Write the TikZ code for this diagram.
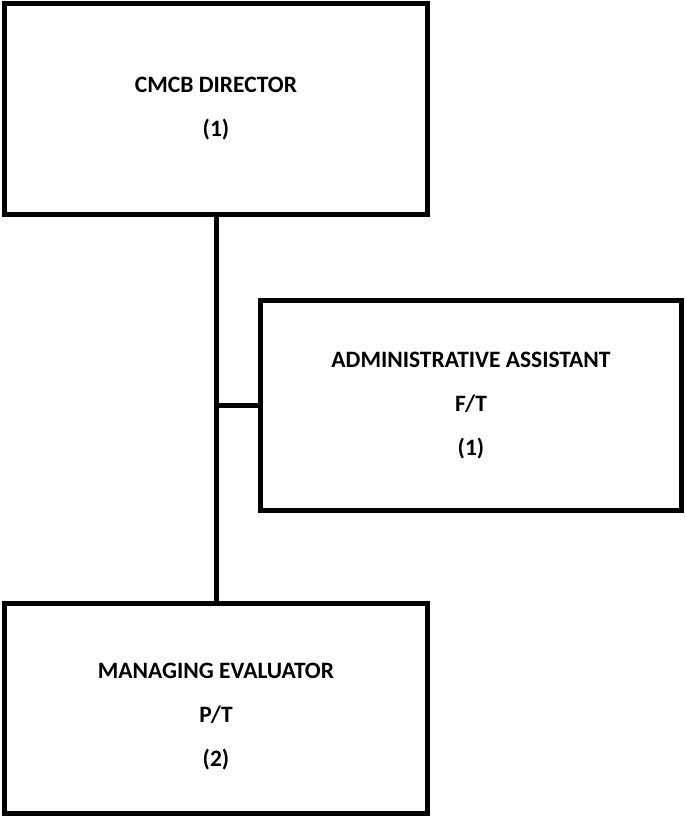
\documentclass[tikz,border=0pt]{standalone}
\usepackage{fontspec}
\setmainfont{Carlito}
\usepackage{tikz}

\tikzset{
  postfont/.style={align=center, font=\bfseries\fontsize{23.5}{44}\selectfont},
  postbox/.style={draw, line width=5pt, rectangle, inner sep=0pt, outer sep=0pt,
    minimum width=423pt, minimum height=210pt, postfont},
  link/.style={line width=5pt}
}

\begin{document}
\begin{tikzpicture}[x=1pt,y=-1pt]
\useasboundingbox (0,0) rectangle (685,816);
% the three posts of the chart
\node[postbox] (director) at (216,109) {CMCB DIRECTOR\\(1)};
\node[postbox, minimum width=421pt] (assistant) at (471,405.5) {ADMINISTRATIVE ASSISTANT\\F/T\\(1)};
\node[postbox] (evaluator) at (216,708.5) {};
\node[postfont, text depth=0pt] (evaluatortext) at ([yshift=-6pt]evaluator.center) {MANAGING EVALUATOR\\P/T\\(2)};

\draw[link] (director.south) -- (evaluator.north);
\draw[link] (director.south |- assistant.west) -- (assistant.west);
\end{tikzpicture}
\end{document}
